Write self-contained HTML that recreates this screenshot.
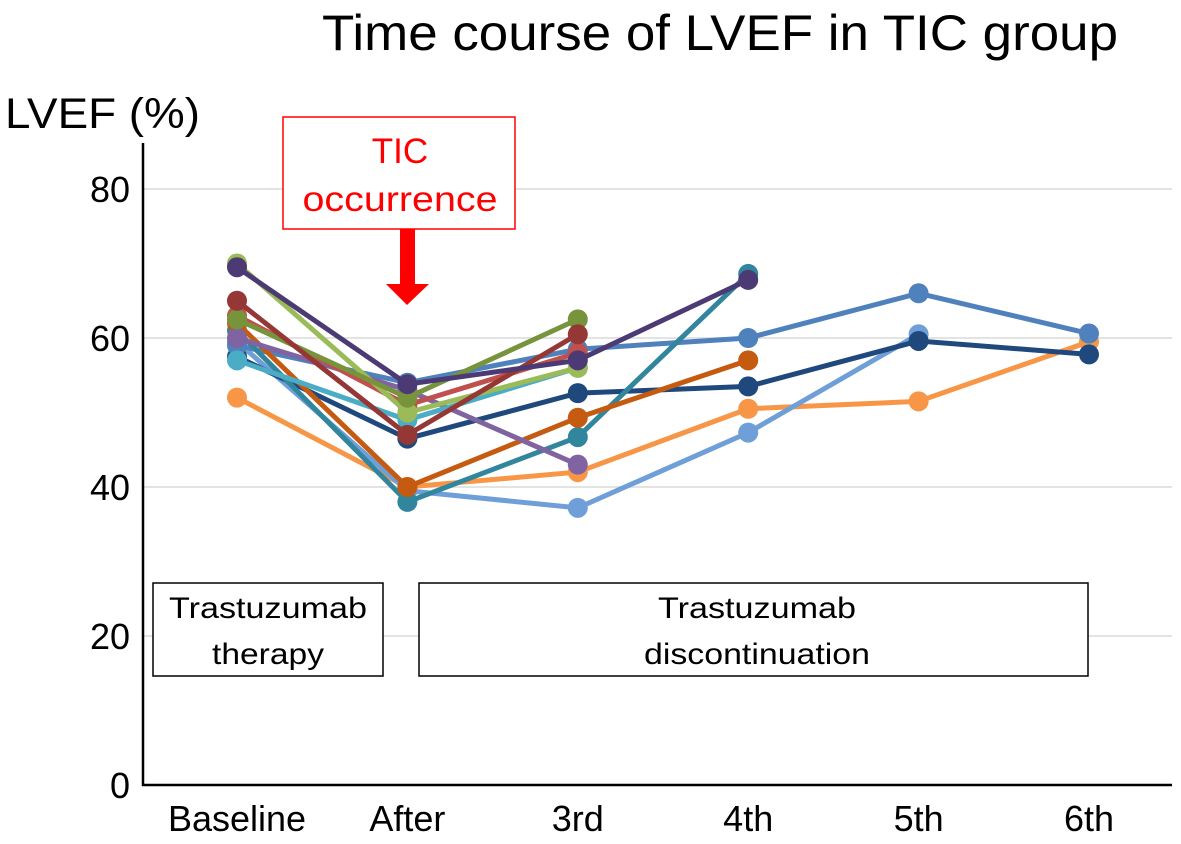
<!DOCTYPE html>
<html><head><meta charset="utf-8"><style>
html,body{margin:0;padding:0;background:#fff;}
svg text{font-family:"Liberation Sans",Arial,sans-serif;}
</style></head><body>
<svg id="chart" width="1181" height="839" viewBox="0 0 1181 839" xmlns="http://www.w3.org/2000/svg">
<text x="322" y="50" font-size="50" textLength="796" lengthAdjust="spacingAndGlyphs" fill="#000">Time course of LVEF in TIC group</text>
<text x="5" y="128" font-size="43" textLength="195" lengthAdjust="spacingAndGlyphs" fill="#000">LVEF (%)</text>
<g id="grid"></g>
<g id="yticks"></g>
<g id="xticks"></g>
<line x1="143" y1="143" x2="143" y2="786" stroke="#000" stroke-width="2.5"/>
<line x1="142" y1="785" x2="1172" y2="785" stroke="#000" stroke-width="2.5"/>
<g id="series"></g>
<g>
<rect x="283" y="117" width="232" height="112" fill="#fff" stroke="#f00" stroke-width="1.5"/>
<text x="400" y="163" font-size="35" fill="#f00" text-anchor="middle">TIC</text>
<text x="400" y="211" font-size="35" fill="#f00" text-anchor="middle" textLength="195" lengthAdjust="spacingAndGlyphs">occurrence</text>
<rect x="400" y="229" width="15" height="56" fill="#f00"/>
<polygon points="386,284 429,284 407,305" fill="#f00"/>
</g>
<g>
<rect x="153" y="583" width="230" height="93" fill="#fff" stroke="#000" stroke-width="1.5"/>
<text x="268" y="618" font-size="30" text-anchor="middle" textLength="198" lengthAdjust="spacingAndGlyphs">Trastuzumab</text>
<text x="268" y="664" font-size="30" text-anchor="middle" textLength="112" lengthAdjust="spacingAndGlyphs">therapy</text>
</g>
<g>
<rect x="419" y="583" width="669" height="93" fill="#fff" stroke="#000" stroke-width="1.5"/>
<text x="757" y="618" font-size="30" text-anchor="middle" textLength="198" lengthAdjust="spacingAndGlyphs">Trastuzumab</text>
<text x="757" y="664" font-size="30" text-anchor="middle" textLength="226" lengthAdjust="spacingAndGlyphs">discontinuation</text>
</g>
</svg>
<script>
const categories = ["Baseline","After","3rd","4th","5th","6th"];
const yTicks = [0,20,40,60,80];
const colors = ["#f79646","#6f9fd8","#1f497d","#4f81bd","#31859c","#c55a11","#8064a2","#4bacc6","#c0504d","#9bbb59","#77933c","#953735","#4b3a73"];
const s1 = [52,40,42,50.5,51.5,59.5];
const s2 = [59.5,39.5,37.2,47.3,60.5,null];
const s3 = [57.5,46.5,52.6,53.5,59.6,57.8];
const s4 = [59,54,58.5,60,66,60.6];
const s5 = [61,38,46.7,68.6,null,null];
const s6 = [62,40,49.3,57,null,null];
const s7 = [60,53,43,null,null,null];
const s8 = [57,49,56,null,null,null];
const s9 = [63,51,58,null,null,null];
const s10 = [70,50,56,null,null,null];
const s11 = [62.5,52,62.5,null,null,null];
const s12 = [65,47,60.5,null,null,null];
const s13 = [69.5,53.8,57,67.8,null,null];
const seriesList = [s1,s2,s3,s4,s5,s6,s7,s8,s9,s10,s11,s12,s13];
const NS="http://www.w3.org/2000/svg";
const xPos = i => 237 + i*170.4;
const yPos = v => 785 - v*7.45;
const grid=document.getElementById('grid'), yt=document.getElementById('yticks'), xt=document.getElementById('xticks'), sg=document.getElementById('series');
yTicks.forEach(t=>{
  if(t>0){const l=document.createElementNS(NS,'line');
  
  
  l.setAttribute('x1',143);l.setAttribute('x2',1172);l.setAttribute('y1',yPos(t));l.setAttribute('y2',yPos(t));
  l.setAttribute('stroke','#e3e3e3');l.setAttribute('stroke-width','2');grid.appendChild(l);}
  const tx=document.createElementNS(NS,'text');
  
  
  tx.setAttribute('x',130);tx.setAttribute('y',yPos(t)+13);tx.setAttribute('font-size','36');tx.setAttribute('text-anchor','end');
  tx.textContent=t;yt.appendChild(tx);
});
categories.forEach((c,i)=>{
  const tx=document.createElementNS(NS,'text');
  
  
  tx.setAttribute('x',xPos(i));tx.setAttribute('y',831);tx.setAttribute('font-size','36');tx.setAttribute('text-anchor','middle');
  tx.textContent=c;xt.appendChild(tx);
});
seriesList.forEach((s,k)=>{
  const g=document.createElementNS(NS,'g');
  
  
  const pts=[];s.forEach((v,i)=>{if(v!==null)pts.push([xPos(i),yPos(v)]);});
  const pl=document.createElementNS(NS,'polyline');
  pl.setAttribute('points',pts.map(p=>p.join(',')).join(' '));
  pl.setAttribute('fill','none');pl.setAttribute('stroke',colors[k]);pl.setAttribute('stroke-width','5');
  g.appendChild(pl);
  pts.forEach(p=>{const c=document.createElementNS(NS,'circle');
    
    
    c.setAttribute('cx',p[0]);c.setAttribute('cy',p[1]);c.setAttribute('r','10');c.setAttribute('fill',colors[k]);g.appendChild(c);});
  sg.appendChild(g);
});
</script>
</body></html>
